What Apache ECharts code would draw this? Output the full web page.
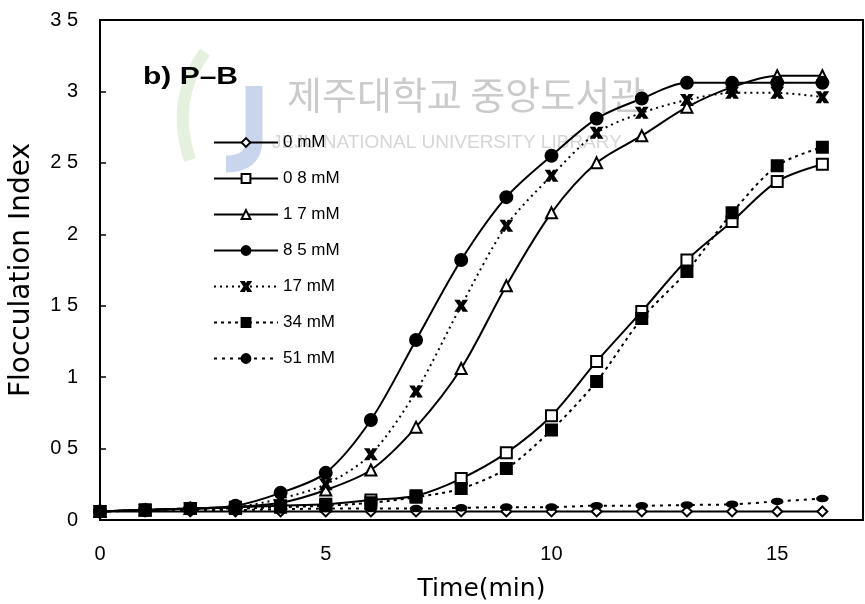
<!DOCTYPE html>
<html>
<head>
<meta charset="utf-8">
<script src="https://cdn.jsdelivr.net/npm/echarts@6/dist/echarts.min.js"></script>
<style>
  html, body { margin: 0; padding: 0; background: #fff; }
  #chart { width: 865px; height: 604px; }
</style>
</head>
<body>
<div id="chart"></div>
<script>
// Flocculation index of P-B over time for each salt concentration
const times = [0, 1, 2, 3, 4, 5, 6, 7, 8, 9, 10, 11, 12, 13, 14, 15, 16];

const seriesNames = ['0 mM', '0 8 mM', '1 7 mM', '8 5 mM', '17 mM', '34 mM', '51 mM'];

const fi_0mM   = [0.06, 0.06, 0.06, 0.06, 0.06, 0.06, 0.06, 0.06, 0.06, 0.06, 0.06, 0.06, 0.06, 0.06, 0.06, 0.06, 0.06];
const fi_08mM  = [0.06, 0.07, 0.08, 0.09, 0.10, 0.11, 0.14, 0.17, 0.29, 0.47, 0.73, 1.11, 1.46, 1.82, 2.09, 2.37, 2.49];
const fi_17mM  = [0.06, 0.07, 0.08, 0.09, 0.12, 0.21, 0.35, 0.65, 1.06, 1.64, 2.15, 2.50, 2.69, 2.89, 3.03, 3.11, 3.11];
const fi_85mM  = [0.06, 0.07, 0.08, 0.10, 0.19, 0.33, 0.70, 1.26, 1.82, 2.26, 2.55, 2.81, 2.95, 3.06, 3.06, 3.06, 3.06];
const fi_17mMb = [0.06, 0.07, 0.08, 0.09, 0.15, 0.25, 0.46, 0.90, 1.50, 2.06, 2.41, 2.71, 2.85, 2.94, 2.99, 2.99, 2.96];
const fi_34mM  = [0.06, 0.07, 0.08, 0.08, 0.09, 0.10, 0.12, 0.16, 0.22, 0.36, 0.63, 0.97, 1.41, 1.74, 2.15, 2.48, 2.61];
const fi_51mM  = [0.06, 0.065, 0.07, 0.07, 0.075, 0.08, 0.08, 0.08, 0.085, 0.09, 0.09, 0.10, 0.10, 0.105, 0.11, 0.13, 0.15];

const yTicks = [0, 0.5, 1, 1.5, 2, 2.5, 3, 3.5];
const xTicks = [0, 5, 10, 15];

const FONT = 'Liberation Sans, Arial, sans-serif';
const crossPath = 'path://M0,0 L3,0 L5,3.6 L7,0 L10,0 L6.6,5 L10,10 L7,10 L5,6.4 L3,10 L0,10 L3.4,5 Z';

function pairs(arr) {
  return times.map((t, i) => [t, arr[i]]);
}

function makeSeries(name, arr, symbol, size, lineType) {
  return {
    name: name,
    type: 'line',
    data: pairs(arr),
    smooth: 0.3,
    symbol: symbol,
    symbolSize: size,
    showAllSymbol: true,
    lineStyle: { color: '#000', width: 2, type: lineType },
    itemStyle: { color: '#000', borderColor: '#000', borderWidth: 2 },
    emphasis: { disabled: true },
    z: 3
  };
}

const chart = echarts.init(document.getElementById('chart'), null, { renderer: 'canvas' });

chart.setOption({
  animation: false,
  backgroundColor: '#fff',
  grid: {
    left: 100, right: 2, top: 20, bottom: 84,
    outerBoundsMode: 'none',
    show: true, borderColor: '#000', borderWidth: 2, backgroundColor: 'transparent'
  },
  xAxis: {
    type: 'value',
    min: 0, max: 16.9, interval: 5,
    name: 'Time(min)',
    nameLocation: 'middle',
    nameGap: 57,
    nameTextStyle: { fontFamily: 'DejaVu Sans, sans-serif', fontSize: 25, color: '#000' },
    axisLine: { show: true, lineStyle: { color: '#000', width: 2 } },
    axisTick: { show: false },
    splitLine: { show: false },
    axisLabel: {
      showMaxLabel: false,
      margin: 24,
      fontFamily: FONT, fontSize: 20, color: '#000',
      formatter: v => (xTicks.indexOf(v) >= 0 ? String(v) : '')
    }
  },
  yAxis: {
    type: 'value',
    min: 0, max: 3.5, interval: 0.5,
    name: 'Flocculation Index',
    nameLocation: 'middle',
    nameGap: 64,
    nameTextStyle: { fontFamily: 'DejaVu Sans, sans-serif', fontSize: 28, color: '#000' },
    axisLine: { show: true, lineStyle: { color: '#000', width: 2 } },
    axisTick: { show: true, inside: true, length: 6, lineStyle: { color: '#000', width: 1.5 } },
    splitLine: { show: false },
    axisLabel: {
      margin: 22,
      fontFamily: FONT, fontSize: 20, color: '#000',
      formatter: v => (yTicks.indexOf(v) >= 0 ? String(v).replace('.', ' ') : '')
    }
  },
  legend: {
    orient: 'vertical',
    left: 208, top: 129,
    itemWidth: 64, itemHeight: 11, itemGap: 19,
    textStyle: { fontFamily: FONT, fontSize: 17, color: '#000' },
    data: seriesNames
  },
  graphic: [
    // library watermark: logo shapes and text
    {
      type: 'bezierCurve', z: 0, silent: true,
      shape: { x1: 205, y1: 52, x2: 190, y2: 160, cpx1: 170, cpy1: 100 },
      style: { fill: 'none', stroke: '#e6f0de', lineWidth: 12 }
    },
    {
      type: 'line', z: 0, silent: true,
      shape: { x1: 254, y1: 86, x2: 254, y2: 140 },
      style: { stroke: '#c9d5ec', lineWidth: 17 }
    },
    {
      type: 'bezierCurve', z: 0, silent: true,
      shape: { x1: 254, y1: 140, x2: 226, y2: 164, cpx1: 254, cpy1: 164 },
      style: { fill: 'none', stroke: '#c9d5ec', lineWidth: 17 }
    },
    {
      type: 'text', z: 0, silent: true,
      left: 287, top: 76,
      style: { text: '제주대학교 중앙도서관', fontFamily: 'Noto Sans CJK KR', fontSize: 38, fill: '#cbcbcb' }
    },
    {
      type: 'text', z: 0, silent: true,
      left: 272, top: 133,
      style: { text: 'JEJU NATIONAL UNIVERSITY LIBRARY', fontFamily: FONT, fontSize: 19, fill: '#d6d6d6' }
    },
    // panel label
    {
      type: 'text', z: 5,
      left: 143, top: 65,
      scaleX: 1.25,
      style: { text: 'b) P–B', fontFamily: FONT, fontSize: 24, fontWeight: 'bold', fill: '#000' }
    }
  ],
  series: [
    makeSeries(seriesNames[0], fi_0mM, 'emptyDiamond', 10, 'solid'),
    makeSeries(seriesNames[1], fi_08mM, 'emptyRect', 11, 'solid'),
    makeSeries(seriesNames[2], fi_17mM, 'emptyTriangle', 11, 'solid'),
    makeSeries(seriesNames[3], fi_85mM, 'circle', 12, 'solid'),
    makeSeries(seriesNames[4], fi_17mMb, crossPath, 10, [2, 4]),
    makeSeries(seriesNames[5], fi_34mM, 'rect', 11, [3, 4]),
    makeSeries(seriesNames[6], fi_51mM, 'circle', [10, 6], [3, 5])
  ]
});
</script>
</body>
</html>
